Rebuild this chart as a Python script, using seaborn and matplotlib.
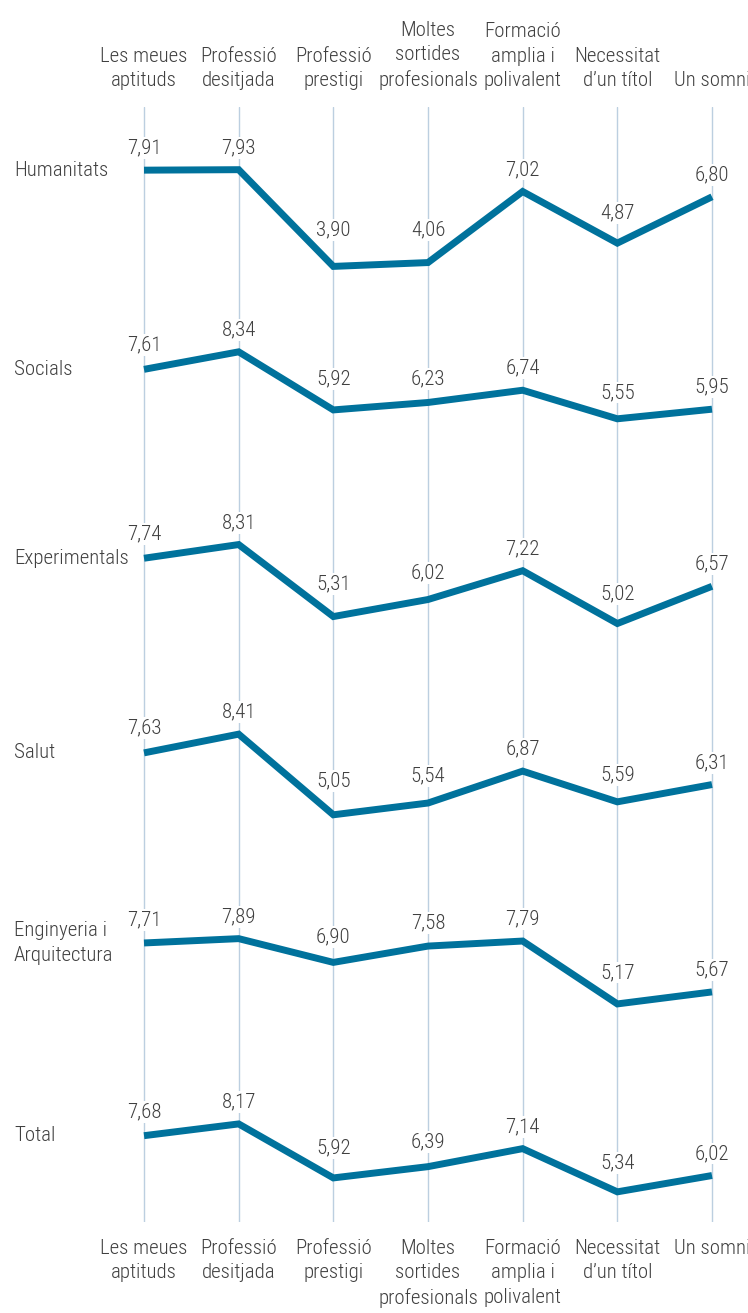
import pandas as pd
import matplotlib
matplotlib.use('Agg')
import matplotlib.pyplot as plt
import matplotlib.transforms as mtransforms
import seaborn as sns

# Dades
categories = ["Les meues\naptituds", "Professió\ndesitjada", "Professió\nprestigi",
              "Moltes\nsortides\nprofesionals", "Formació\namplia i\npolivalent",
              "Necessitat\nd’un títol", "Un somni"]
areas = ["Humanitats", "Socials", "Experimentals", "Salut",
         "Enginyeria i\nArquitectura", "Total"]
humanitats = [7.91, 7.93, 3.90, 4.06, 7.02, 4.87, 6.80]
socials = [7.61, 8.34, 5.92, 6.23, 6.74, 5.55, 5.95]
experimentals = [7.74, 8.31, 5.31, 6.02, 7.22, 5.02, 6.57]
salut = [7.63, 8.41, 5.05, 5.54, 6.87, 5.59, 6.31]
enginyeria = [7.71, 7.89, 6.90, 7.58, 7.79, 5.17, 5.67]
total = [7.68, 8.17, 5.92, 6.39, 7.14, 5.34, 6.02]
series = [humanitats, socials, experimentals, salut, enginyeria, total]

ROW_STEP = 8  # separacio vertical entre files (unitats de valor)
PX_PER_UNIT = 24
BLUE = '#00729c'
GREY = '#404040'
GRID = '#bccfe0'

rows = []
for i, (area, vals) in enumerate(zip(areas, series)):
    for j, v in enumerate(vals):
        rows.append({'area': area, 'row': i, 'pos': j, 'value': v, 'y': v - ROW_STEP * i})
df = pd.DataFrame(rows)

sns.set_theme(style="white")
plt.rcParams['font.family'] = ['Roboto Condensed', 'Liberation Sans Narrow', 'Roboto', 'DejaVu Sans']
plt.rcParams['font.weight'] = 'light'

W, H = 748, 1313
fig = plt.figure(figsize=(W / 100, H / 100), dpi=100)
left_px, right_px, top_px, bot_px = 130, 726, 107, 1222
ax = fig.add_axes([left_px / W, 1 - bot_px / H, (right_px - left_px) / W, (bot_px - top_px) / H])

sns.lineplot(data=df, x='pos', y='y', hue='area', palette=[BLUE] * len(areas),
             estimator=None, sort=False, legend=False, linewidth=5, ax=ax, zorder=3)
for line in ax.get_lines():
    line.set_solid_joinstyle('miter')
    line.set_solid_capstyle('butt')

px_unit = (712 - 144) / 6
ax.set_xlim(-(144 - left_px) / px_unit, 6 + (right_px - 712) / px_unit)
ax.set_ylim(8 - (bot_px - 168) / PX_PER_UNIT, 8 + (168 - top_px) / PX_PER_UNIT)

ax.set_xticks(range(len(categories)))
ax.set_xticklabels(categories, fontsize=15, color=GREY, linespacing=1.38)
ax.tick_params(axis='x', length=0, labeltop=True, labelbottom=True, pad=12)
ax.set_yticks([])
ax.set_xlabel('')
ax.set_ylabel('')
ax.grid(axis='x', color=GRID, linewidth=1, zorder=0)
ax.set_axisbelow(True)
for s in ax.spines.values():
    s.set_visible(False)

# Etiquetes de valor (per damunt dels trams veins de la linia)
for i, vals in enumerate(series):
    for j, v in enumerate(vals):
        rise = 0
        if j > 0:
            rise = max(rise, 0.15 * (vals[j - 1] - v))
        if j < len(vals) - 1:
            rise = max(rise, 0.15 * (vals[j + 1] - v))
        off_pt = (22 + rise * PX_PER_UNIT) * 0.72
        ax.annotate(f"{v:.2f}".replace('.', ','), (j, v - ROW_STEP * i),
                    xytext=(0, off_pt), textcoords='offset points', ha='center', va='center',
                    fontsize=15, color=GREY, zorder=2.5,
                    bbox=dict(facecolor='white', edgecolor='none', pad=1))

# Noms de les files
trans = mtransforms.blended_transform_factory(fig.transFigure, ax.transData)
for i, (area, vals) in enumerate(zip(areas, series)):
    ax.text(14 / W, vals[0] - ROW_STEP * i, area, transform=trans, ha='left', va='center',
            fontsize=15, color=GREY, linespacing=1.38)

fig.savefig('out.png', dpi=100)
